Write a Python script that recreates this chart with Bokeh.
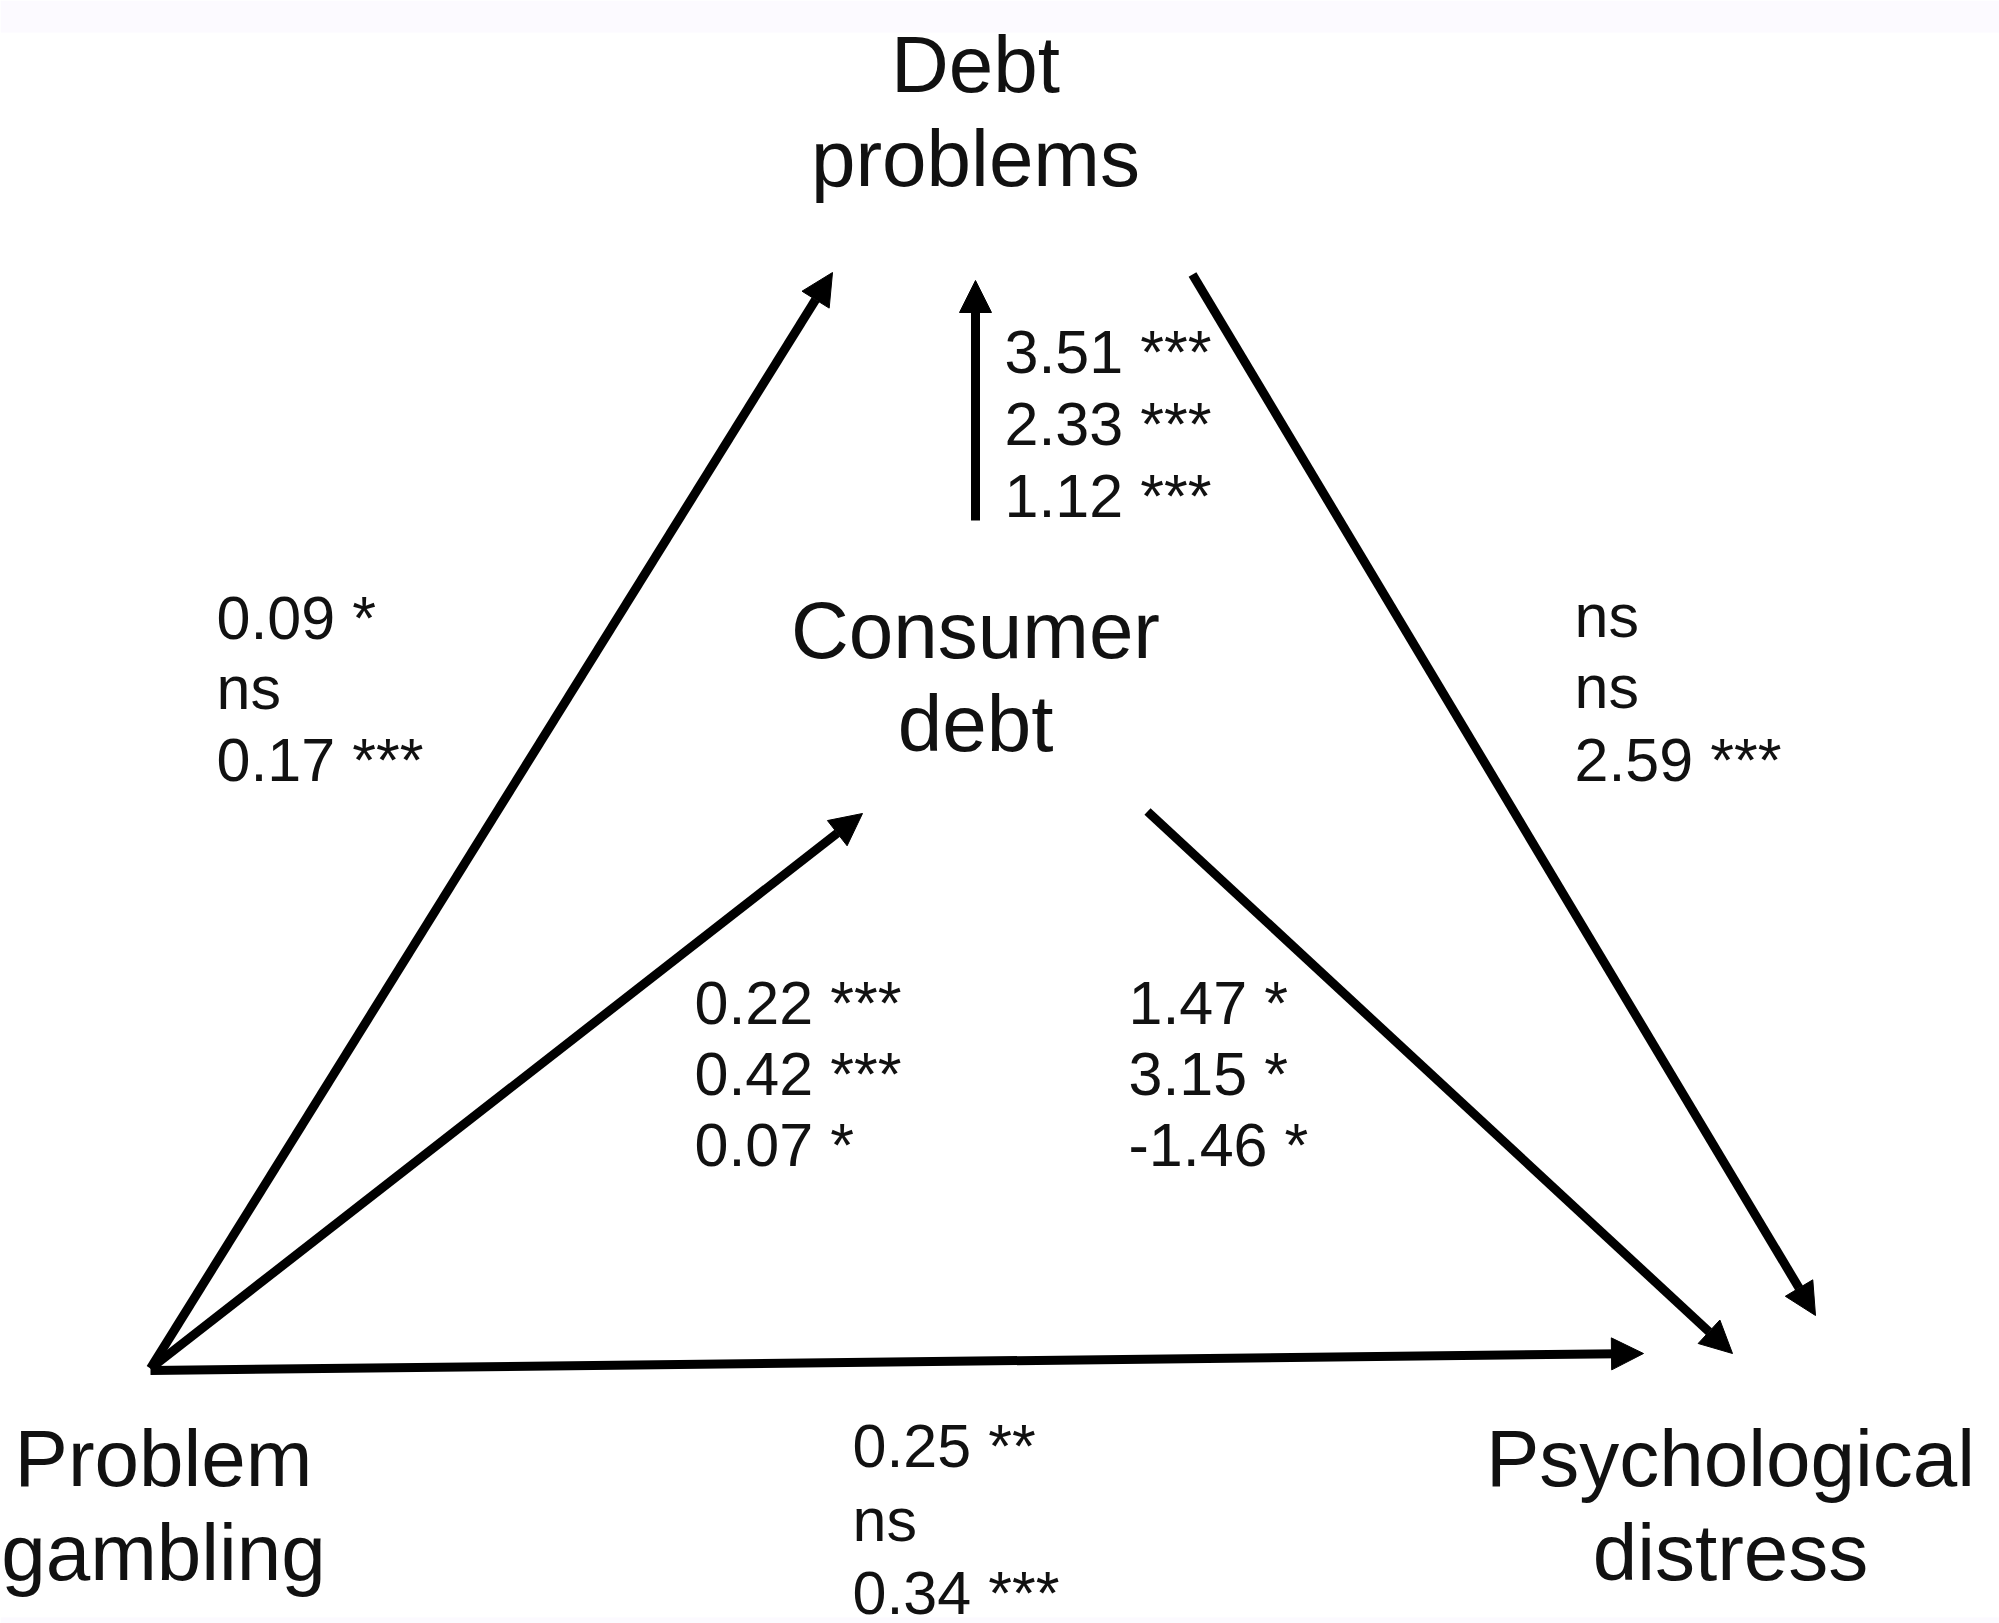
from bokeh.plotting import figure
from bokeh.models import ColumnDataSource, Range1d, Arrow, NormalHead
from bokeh.core.properties import value
from bokeh.embed import file_html
from bokeh.resources import INLINE

# ---------------- data ----------------
node_names = ["Debt problems", "Consumer debt", "Problem gambling", "Psychological distress"]
node_line1 = ["Debt", "Consumer", "Problem", "Psychological"]
node_line2 = ["problems", "debt", "gambling", "distress"]

path_from = ["Problem gambling", "Consumer debt", "Debt problems",
             "Problem gambling", "Consumer debt", "Problem gambling"]
path_to = ["Debt problems", "Debt problems", "Psychological distress",
           "Consumer debt", "Psychological distress", "Psychological distress"]
coef_1 = ["0.09 *", "3.51 ***", "ns", "0.22 ***", "1.47 *", "0.25 **"]
coef_2 = ["ns", "2.33 ***", "ns", "0.42 ***", "3.15 *", "ns"]
coef_3 = ["0.17 ***", "1.12 ***", "2.59 ***", "0.07 *", "-1.46 *", "0.34 ***"]

# ---------------- layout (pixel space of the diagram) ----------------
node_x = [975, 975, 163, 1730]
node_base1 = [93, 659, 1487, 1487]
node_base2 = [187, 752, 1581, 1581]

arrow_x0 = [150, 975, 1192, 150, 1147, 150]
arrow_y0 = [1368, 520, 274, 1368, 811, 1370]
arrow_x1 = [832, 975, 1815, 862, 1732, 1643]
arrow_y1 = [272, 280, 1315, 813, 1353, 1353]

coef_x = [216, 1004, 1574, 694, 1128, 852]
coef_b1 = [639, 373, 637, 1024, 1024, 1467]
coef_b2 = [709, 445, 708, 1095, 1095, 1541]
coef_b3 = [781, 517, 781, 1166, 1166, 1614]

NODE_FS, COEF_FS = 80, 61
BASE_SHIFT = 0.36  # renderer baseline correction, in em

W, H = 1999, 1623
p = figure(width=W, height=H, x_range=Range1d(0, W), y_range=Range1d(H, 0),
           output_backend="svg", toolbar_location=None,
           x_axis_type=None, y_axis_type=None, min_border=0)
p.outline_line_color = None
p.background_fill_color = "white"
p.border_fill_color = "white"
p.xgrid.visible = False
p.ygrid.visible = False

FONT = value("Liberation Sans")

# arrows
for i in range(len(path_from)):
    p.add_layout(Arrow(x_start=arrow_x0[i], y_start=arrow_y0[i],
                       x_end=arrow_x1[i], y_end=arrow_y1[i],
                       line_width=9, line_color="black",
                       end=NormalHead(size=32, fill_color="black", line_color="black", line_width=1)))

# node labels
node_src = ColumnDataSource(dict(
    x=node_x * 2,
    y=[b - BASE_SHIFT * NODE_FS for b in node_base1 + node_base2],
    t=node_line1 + node_line2))
p.text(x="x", y="y", text="t", source=node_src, text_align="center",
       text_baseline="alphabetic", text_font=FONT, text_font_size=f"{NODE_FS}px",
       text_color="#111111")

# coefficients
coef_src = ColumnDataSource(dict(
    x=coef_x * 3,
    y=[b - BASE_SHIFT * COEF_FS for b in coef_b1 + coef_b2 + coef_b3],
    t=coef_1 + coef_2 + coef_3))
p.text(x="x", y="y", text="t", source=coef_src, text_align="left",
       text_baseline="alphabetic", text_font=FONT, text_font_size=f"{COEF_FS}px",
       text_color="#111111")

# light bands at the top and bottom edges of the picture
p.quad(left=[0, 0], right=[W, W], top=[0, 1617], bottom=[32, H],
       fill_color="#FCFAFF", line_color=None)

open("out.html", "w").write(file_html(p, INLINE))
